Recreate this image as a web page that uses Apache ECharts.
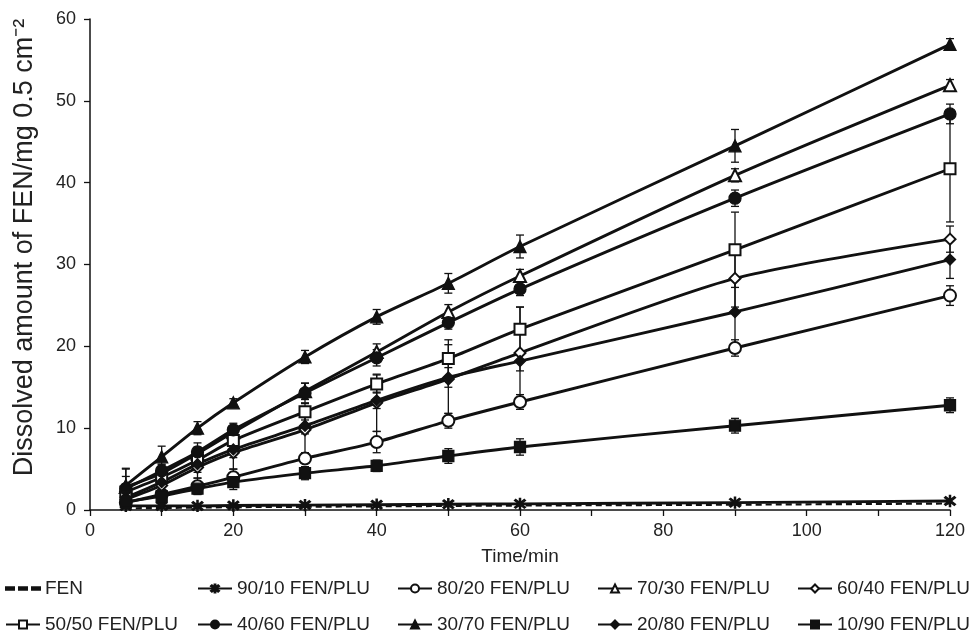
<!DOCTYPE html>
<html>
<head>
<meta charset="utf-8">
<script src="https://cdn.jsdelivr.net/npm/echarts/dist/echarts.min.js"></script>
<style>
html,body{margin:0;padding:0;background:#fff}
#main{width:969px;height:640px}
</style>
</head>
<body>
<div id="main"></div>
<script>
// sampling times (min)
var times = [5, 10, 15, 20, 30, 40, 50, 60, 90, 120];

var names = ['FEN', '90/10 FEN/PLU', '80/20 FEN/PLU', '70/30 FEN/PLU', '60/40 FEN/PLU',
             '50/50 FEN/PLU', '40/60 FEN/PLU', '30/70 FEN/PLU', '20/80 FEN/PLU', '10/90 FEN/PLU'];

// dissolved amount, mg / 0.5 cm2
var fen   = [0.2, 0.25, 0.3, 0.35, 0.4, 0.45, 0.5, 0.55, 0.65, 0.8];
var p9010 = [0.5, 0.5, 0.5, 0.55, 0.6, 0.65, 0.7, 0.75, 0.9, 1.1];
var p8020 = [0.9, 1.9, 2.9, 4.0, 6.3, 8.3, 10.9, 13.2, 19.8, 26.2];
var p7030 = [2.8, 4.5, 6.9, 9.5, 14.5, 19.3, 24.2, 28.6, 40.9, 51.9];
var p6040 = [1.3, 3.0, 5.2, 7.0, 9.8, 13.1, 16.0, 19.2, 28.3, 33.1];
var p5050 = [2.2, 4.0, 6.1, 8.5, 12.0, 15.4, 18.5, 22.1, 31.8, 41.7];
var p4060 = [2.6, 4.8, 7.1, 9.8, 14.3, 18.6, 22.9, 27.0, 38.1, 48.4];
var p3070 = [3.0, 6.5, 10.0, 13.1, 18.7, 23.6, 27.7, 32.2, 44.5, 56.9];
var p2080 = [1.5, 3.4, 5.6, 7.4, 10.3, 13.4, 16.2, 18.2, 24.2, 30.6];
var p1090 = [1.0, 1.7, 2.6, 3.4, 4.5, 5.4, 6.6, 7.7, 10.3, 12.8];

// standard deviations (half length of error bars)
var e8020 = [0.6, 1.0, 1.0, 1.0, 0.6, 1.3, 0.9, 0.9, 1.0, 1.2];
var e7030 = [2.3, 1.0, 0.8, 0.6, 1.0, 1.0, 0.9, 0.8, 0.8, 0.7];
var e6040 = [0.8, 1.2, 1.3, 2.0, 2.8, 3.5, 4.2, 5.6, 3.5, 1.6];
var e5050 = [1.0, 0.8, 0.8, 1.0, 1.0, 1.1, 2.3, 2.7, 4.6, 6.5];
var e4060 = [1.5, 0.8, 1.1, 0.8, 1.2, 1.0, 0.8, 0.8, 1.0, 1.2];
var e3070 = [2.0, 1.3, 0.8, 0.5, 0.8, 0.9, 1.2, 1.4, 2.0, 0.7];
var e2080 = [0.8, 1.0, 1.0, 1.0, 1.0, 1.0, 1.2, 1.2, 4.0, 2.3];
var e1090 = [0.6, 0.7, 0.7, 0.9, 0.8, 0.7, 0.9, 1.0, 0.9, 0.9];

var values = [fen, p9010, p8020, p7030, p6040, p5050, p4060, p3070, p2080, p1090];
var errors = [null, null, e8020, e7030, e6040, e5050, e4060, e3070, e2080, e1090];

var asterisk = 'path://M9,0L11,0L11,20L9,20Z M1,4L3,2L19,16L17,18Z M17,2L19,4L3,18L1,16Z';
var dashes = 'path://M0,0h8v2.4h-8z M13,0h8v2.4h-8z M26,0h8v2.4h-8z';
var symbols = ['none', asterisk, 'emptyCircle', 'emptyTriangle', 'emptyDiamond',
               'emptyRect', 'circle', 'triangle', 'diamond', 'rect'];
var sizes = [0, 11, 12, 12, 11, 11, 12, 12, 11, 11];

var font = 'Liberation Sans, Arial, sans-serif';
var ink = '#111';

var chart = echarts.init(document.getElementById('main'));

var series = [];
// error bars first so markers sit on top
for (let i = 0; i < names.length; i++) {
    if (!errors[i]) continue;
    let d = times.map((t, k) => [t, values[i][k], errors[i][k]]);
    series.push({
        type: 'custom',
        name: names[i] + ' SD',
        silent: true,
        z: 1,
        encode: {x: 0, y: 1},
        data: d,
        renderItem: function (params, api) {
            var x = api.value(0), y = api.value(1), e = api.value(2);
            var hi = api.coord([x, y + e]);
            var lo = api.coord([x, y - e]);
            var w = 4;
            var st = {stroke: ink, lineWidth: 1.3};
            return {
                type: 'group',
                children: [
                    {type: 'line', shape: {x1: hi[0], y1: hi[1], x2: lo[0], y2: lo[1]}, style: st},
                    {type: 'line', shape: {x1: hi[0] - w, y1: hi[1], x2: hi[0] + w, y2: hi[1]}, style: st},
                    {type: 'line', shape: {x1: lo[0] - w, y1: lo[1], x2: lo[0] + w, y2: lo[1]}, style: st}
                ]
            };
        }
    });
}
for (let i = 0; i < names.length; i++) {
    series.push({
        type: 'line',
        name: names[i],
        z: 3,
        smooth: 0.25,
        data: times.map((t, k) => [t, values[i][k]]),
        symbol: symbols[i],
        symbolSize: sizes[i],
        showSymbol: i > 0,
        lineStyle: {color: ink, width: i == 0 ? 2.2 : 2.9, type: i == 0 ? [6, 4] : 'solid'},
        itemStyle: {color: ink, borderColor: ink, borderWidth: 1.3}
    });
}

var colX = [0, 192, 392, 592, 792];
var rowY = [574, 610];
var legends = names.map((n, i) => ({
    data: [i == 0 ? {name: n, icon: dashes} : n],
    left: colX[i % 5],
    top: rowY[Math.floor(i / 5)],
    itemWidth: 34,
    itemHeight: 10,
    itemGap: 0,
    textStyle: {fontFamily: font, fontSize: 19, color: '#222'}
}));

var option = {
    backgroundColor: '#fff',
    animation: false,
    grid: {left: 90, right: 19, top: 19, bottom: 130},
    legend: legends,
    xAxis: {
        type: 'value',
        min: 0, max: 120, interval: 10,
        name: 'Time/min',
        nameLocation: 'middle',
        nameGap: 37,
        nameTextStyle: {fontFamily: font, fontSize: 19, color: '#222'},
        axisLine: {lineStyle: {color: ink, width: 1.5}},
        axisTick: {length: 6, lineStyle: {color: ink, width: 1.3}},
        axisLabel: {
            fontFamily: font, fontSize: 18, color: '#222', margin: 12,
            formatter: function (v) { return v % 20 === 0 ? v : ''; }
        },
        splitLine: {show: false}
    },
    yAxis: {
        type: 'value',
        min: 0, max: 60, interval: 10,
        name: 'Dissolved amount of FEN/mg 0.5 cm\u207B\u00B2',
        nameLocation: 'middle',
        nameGap: 52,
        nameTextStyle: {fontFamily: font, fontSize: 27, color: '#222', padding: [0, 0, 0, 34]},
        axisLine: {show: true, lineStyle: {color: ink, width: 1.5}},
        axisTick: {show: true, length: 6, lineStyle: {color: ink, width: 1.3}},
        axisLabel: {fontFamily: font, fontSize: 18, color: '#222', margin: 14},
        splitLine: {show: false}
    },
    series: series
};
chart.setOption(option);
</script>
</body>
</html>
